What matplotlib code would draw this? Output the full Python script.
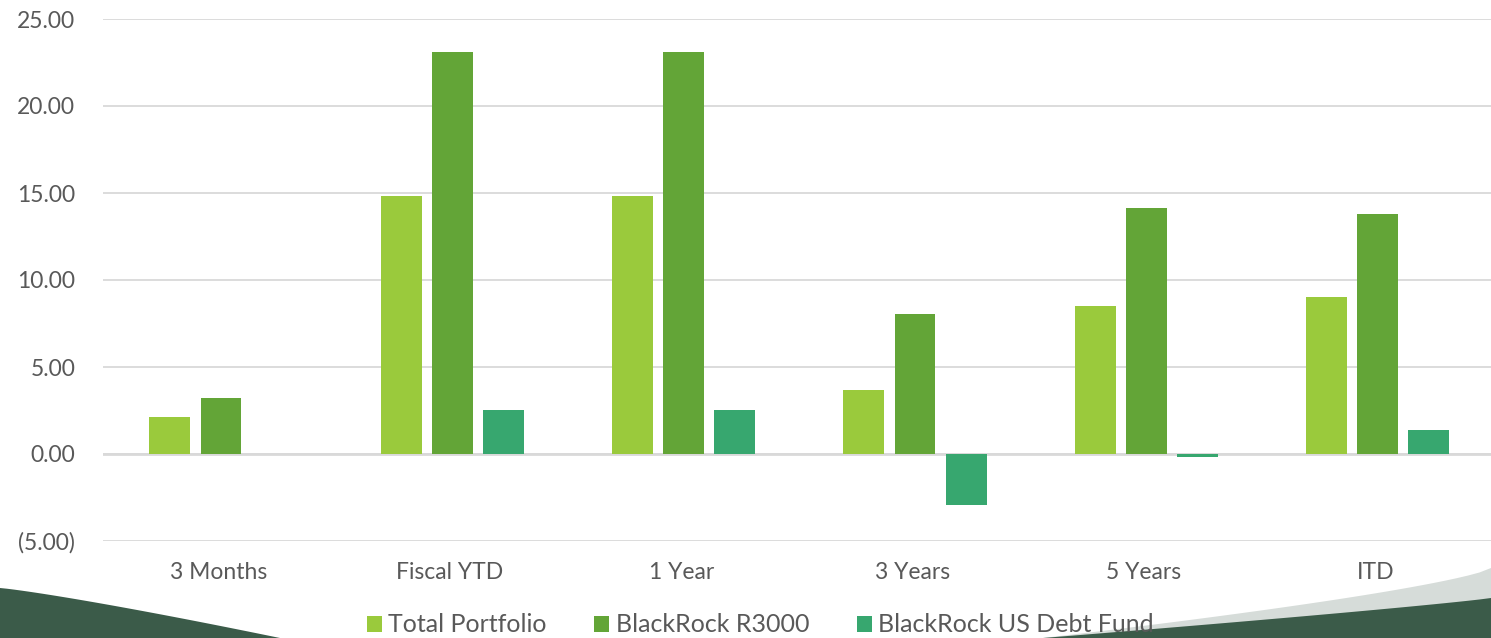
import numpy as np
import matplotlib
matplotlib.use("Agg")
import matplotlib.pyplot as plt
from matplotlib.patches import Polygon
from matplotlib.ticker import FuncFormatter

categories = ["3 Months", "Fiscal YTD", "1 Year", "3 Years", "5 Years", "ITD"]
total_portfolio = [2.13, 14.83, 14.83, 3.68, 8.50, 9.02]
blackrock_r3000 = [3.22, 23.10, 23.10, 8.05, 14.14, 13.80]
blackrock_debt = [0.00, 2.53, 2.53, -2.93, -0.17, 1.38]
series_names = ["Total Portfolio", "BlackRock R3000", "BlackRock US Debt Fund"]
colors = ["#9aca3c", "#63a537", "#37a76f"]

plt.rcParams['font.family'] = ['Lato', 'DejaVu Sans']
text_color = "#595959"

W, H = 1491, 638
fig = plt.figure(figsize=(W / 100, H / 100), dpi=100)
fig.patch.set_facecolor("white")

def fy(y):
    return 1 - y / H

def curve(x0, y0, x1, y1, n=40, power=1.6):
    t = np.linspace(0, 1, n)
    xs = x0 + (x1 - x0) * t
    ys = y0 + (y1 - y0) * t ** power
    return xs, ys

xs, ys = curve(0, 588, 280, 638, power=1.15)
pts = [(0, fy(638))] + [(x / W, fy(y)) for x, y in zip(xs, ys)]
fig.patches.append(Polygon(pts, closed=True, transform=fig.transFigure,
                           facecolor="#3b5b49", edgecolor="none", zorder=0))
xs, ys = curve(1491, 568, 1043, 638, power=0.75)
pts = [(1.0, fy(638))] + [(x / W, fy(y)) for x, y in zip(xs, ys)]
fig.patches.append(Polygon(pts, closed=True, transform=fig.transFigure,
                           facecolor="#d6dcd9", edgecolor="none", zorder=0))
xs, ys = curve(1491, 598, 1043, 638, power=0.9)
pts = [(1.0, fy(638))] + [(x / W, fy(y)) for x, y in zip(xs, ys)]
fig.patches.append(Polygon(pts, closed=True, transform=fig.transFigure,
                           facecolor="#3b5b49", edgecolor="none", zorder=0))

ax = fig.add_axes([103 / W, fy(541), 1 - 103 / W, (541 - 19) / H])
ax.set_facecolor("none")

x = np.arange(len(categories))
bw = 0.177
off = 0.221
for i, (vals, c, name) in enumerate(zip([total_portfolio, blackrock_r3000, blackrock_debt],
                                        colors, series_names)):
    ax.bar(x + (i - 1) * off + 0.01, vals, width=bw, color=c, label=name, zorder=3,
           linewidth=0)

ax.set_xlim(-0.5, len(categories) - 0.5)
ax.set_ylim(-5, 25)
ax.set_yticks(np.arange(-5, 26, 5))
ax.yaxis.set_major_formatter(FuncFormatter(lambda v, p: f"({abs(v):.2f})" if v < 0 else f"{v:.2f}"))
ax.set_xticks(x)
ax.set_xticklabels(categories)
ax.grid(axis="y", color="#d9d9d9", linewidth=1.3, zorder=0)
ax.axhline(0, color="#d9d9d9", linewidth=2, zorder=2)
for s in ax.spines.values():
    s.set_visible(False)
ax.tick_params(length=0, labelsize=16.5, colors=text_color)
ax.tick_params(axis="y", pad=20)
ax.tick_params(axis="x", pad=15)

leg = fig.legend(loc="center", bbox_to_anchor=(0.51, fy(625)), ncol=3, frameon=False,
                 fontsize=18, handlelength=0.6, handleheight=0.6, handletextpad=0.25,
                 columnspacing=1.9, labelcolor=text_color)

fig.savefig("out.png", dpi=100, facecolor="white")
